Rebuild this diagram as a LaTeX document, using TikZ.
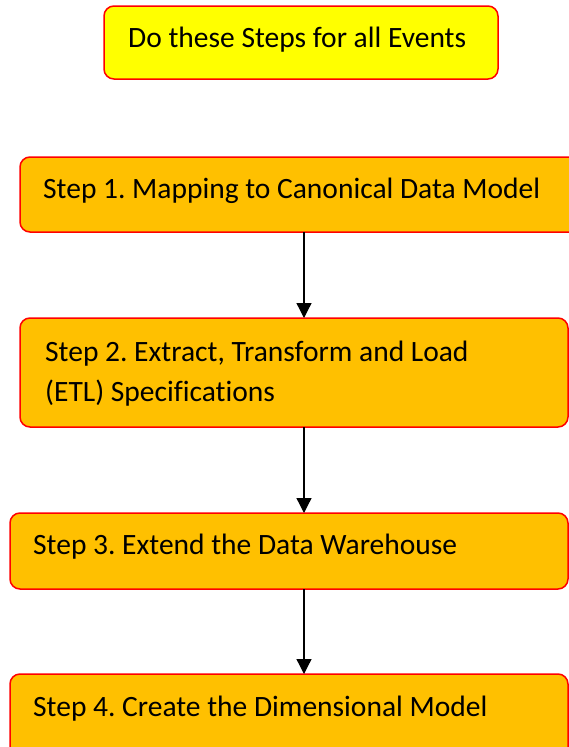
\documentclass[tikz,border=0pt]{standalone}
\usepackage{fontspec}
\setmainfont{Carlito}[Ligatures=NoCommon]
\usetikzlibrary{arrows.meta}
\definecolor{boxyellow}{HTML}{FFFF00}
\definecolor{boxorange}{HTML}{FFC000}
\definecolor{boxred}{HTML}{FF0000}
\tikzset{
  stepbox/.style={draw=boxred, line width=1.5pt, fill=boxorange, rounded corners=10pt},
  headbox/.style={draw=boxred, line width=1.5pt, fill=boxyellow, rounded corners=10pt},
  steptext/.style={anchor=base west, inner sep=0pt, font=\fontsize{29.5}{40}\selectfont\frenchspacing},
  flow/.style={line width=1.3pt, -{Triangle[width=15pt,length=15pt]}}
}
\begin{document}
\begin{tikzpicture}[x=1pt,y=-1pt]
\useasboundingbox (0,0) rectangle (569,747);
\clip (0,0) rectangle (569,747);
\fill[white] (0,0) rectangle (569,747);
% boxes
\draw[headbox] (104,6) rectangle (498,79);
\draw[stepbox] (20,157) rectangle (600,232);
\draw[stepbox] (20,318) rectangle (568,427);
\draw[stepbox] (10,513) rectangle (568,589);
\draw[stepbox] (10,674) rectangle (568,790);
% anchor coordinates for connectors
\coordinate (s1b) at (304,232);
\coordinate (s2t) at (304,318);
\coordinate (s2b) at (304,427);
\coordinate (s3t) at (304,513);
\coordinate (s3b) at (304,589);
\coordinate (s4t) at (304,674);
% texts
\node[steptext] (t0) at (128,47) {Do these Steps for all Events};
\node[steptext] (t1) at (43,198) {Step 1. Mapping to Canonical Data Model};
\node[steptext] (t2a) at (45,361) {Step 2. Extract, Transform and Load};
\node[steptext] (t2b) at (45,401) {(ETL) Specifications};
\node[steptext] (t3) at (33,554) {Step 3. Extend the Data Warehouse};
\node[steptext] (t4) at (33,716) {Step 4. Create the Dimensional Model};
% connectors
\draw[flow] (s1b) -- (s2t);
\draw[flow] (s2b) -- (s3t);
\draw[flow] (s3b) -- (s4t);
\end{tikzpicture}
\end{document}
